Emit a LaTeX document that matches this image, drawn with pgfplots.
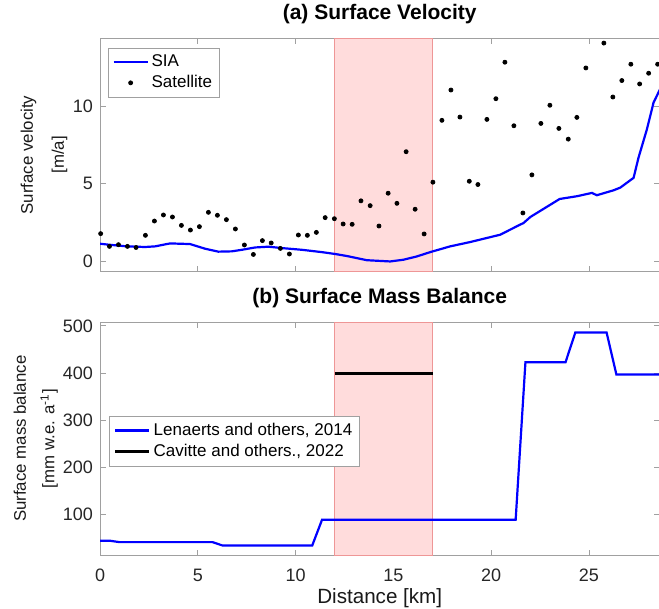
\documentclass[border=0pt]{standalone}
\usepackage{fontspec}
\setmainfont{Liberation Sans}
\usepackage{pgfplots}
\pgfplotsset{compat=1.18}
\definecolor{axgray}{RGB}{160,160,160}
\definecolor{shadefill}{RGB}{255,220,220}
\definecolor{shadeedge}{RGB}{238,150,150}
\definecolor{cSIA}{RGB}{0,0,255}

\pgfplotsset{
  panel/.style={
    scale only axis, width=279.5pt, height=116.5pt,
    xmin=0, xmax=28.6, xtick={0,5,...,25},
    axis line style={draw=axgray, line width=0.5pt},
    every tick/.style={draw=axgray, line width=0.5pt},
    major tick length=2.8pt,
    tick label style={font=\fontsize{9}{10}\selectfont, text=black!85},
    xticklabel style={yshift=-3.5pt},
    /pgf/number format/assume math mode=true,
    title style={font=\fontsize{10.5}{12}\selectfont\bfseries, yshift=-2.2pt},
    label style={font=\fontsize{8.4}{10}\selectfont, text=black!90},
    legend cell align=left,
    legend style={font=\fontsize{8.5}{10}\selectfont, draw=axgray,
      inner xsep=2pt, inner ysep=2pt,
      nodes={inner sep=1.4pt}},
  },
}

\begin{document}
\begin{tikzpicture}
% ===== (a) surface velocity =====
\begin{axis}[panel, at={(0pt,141.8pt)}, anchor=south west,
  ymin=-0.65, ymax=14.35, ytick={0,5,10}, xticklabels={},
  title={(a) Surface Velocity},
  ylabel={Surface velocity\\[5.5pt]{[m/a]}},
  ylabel style={at={(axis description cs:-0.100,0.5)}, anchor=center, align=center},
  legend style={at={(axis description cs:0.0143,0.961)}, anchor=north west},
]
\addplot[forget plot, draw=shadeedge, fill=shadefill, line width=0.5pt]
  coordinates {(12,-0.65) (17,-0.65) (17,14.35) (12,14.35)} -- cycle;
\addplot[cSIA, line width=1.1pt] coordinates {
  (0.0,1.14) (0.43,1.08) (1.37,0.97) (2.30,0.93) (2.81,0.97) (3.58,1.16)
  (4.60,1.12) (5.37,0.82) (6.05,0.63) (6.74,0.65) (7.25,0.75) (7.93,0.90)
  (8.61,0.95) (9.30,0.86) (10.32,0.75) (11.34,0.60) (12.02,0.48) (12.62,0.35)
  (13.64,0.08) (14.83,0.0) (15.51,0.11) (16.19,0.32) (16.88,0.60) (17.90,0.97)
  (18.93,1.25) (20.46,1.72) (21.48,2.37) (21.65,2.47) (22.0,2.86) (23.5,4.02)
  (24.4,4.2) (25.15,4.41) (25.4,4.26) (26.26,4.58) (26.6,4.75) (27.28,5.38)
  (27.53,6.67) (27.96,8.5) (28.30,10.22) (28.64,11.1)};
\addlegendentry{SIA}
\addplot[only marks, mark=*, mark size=1pt, black] coordinates {
  (0.03,1.79) (0.48,0.97) (0.94,1.08) (1.40,0.97) (1.84,0.90) (2.32,1.68)
  (2.78,2.60) (3.24,2.99) (3.70,2.86) (4.16,2.32) (4.62,2.02) (5.08,2.24)
  (5.54,3.16) (6.00,2.97) (6.46,2.69) (6.92,2.09) (7.38,1.06) (7.84,0.45)
  (8.30,1.34) (8.75,1.19) (9.22,0.84) (9.68,0.48) (10.14,1.70) (10.60,1.68)
  (11.06,1.87) (11.51,2.82) (11.98,2.75) (12.43,2.41) (12.89,2.39) (13.34,3.90)
  (13.81,3.59) (14.26,2.28) (14.73,4.39) (15.18,3.74) (15.65,7.06) (16.11,3.36)
  (16.57,1.77) (17.02,5.10) (17.48,9.08) (17.94,11.03) (18.40,9.29) (18.88,5.16)
  (19.32,4.95) (19.78,9.14) (20.24,10.47) (20.70,12.82) (21.16,8.73) (21.62,3.12)
  (22.08,5.57) (22.54,8.88) (23.00,10.05) (23.46,8.56) (23.94,7.87) (24.38,9.27)
  (24.84,12.45) (25.76,14.05) (26.22,10.58) (26.68,11.64) (27.14,12.69)
  (27.59,11.42) (28.05,12.11) (28.51,12.69)};
\addlegendentry{Satellite}
\end{axis}

% ===== (b) surface mass balance =====
\begin{axis}[panel, at={(0pt,0pt)}, anchor=south west,
  ymin=13, ymax=508, ytick={100,200,...,500},
  title={(b) Surface Mass Balance},
  xlabel={Distance [km]},
  xlabel style={font=\fontsize{10.3}{12}\selectfont, at={(axis description cs:0.5,0)}, anchor=north, yshift=-13pt},
  ylabel={Surface mass balance\\[4.2pt]{[mm w.e. a\textsuperscript{-1}]}},
  ylabel style={at={(axis description cs:-0.1148,0.5)}, anchor=center, align=center},
  legend style={at={(axis description cs:0.0166,0.599)}, anchor=north west},
]
\addplot[forget plot, draw=shadeedge, fill=shadefill, line width=0.5pt]
  coordinates {(12,13) (17,13) (17,508) (12,508)} -- cycle;
\addplot[cSIA, line width=1.1pt] coordinates {
  (0,44) (0.5,44) (1.0,41) (5.75,41) (6.25,34) (10.85,34) (11.35,88.5)
  (21.25,88.5) (21.75,423) (23.8,423) (24.3,486) (25.9,486) (26.4,397) (28.6,397)};
\addlegendentry{Lenaerts and others, 2014}
\addplot[black, line width=1.5pt] coordinates {(12,400) (17,400)};
\addlegendentry{Cavitte and others., 2022}
\end{axis}

\pgfresetboundingbox
\path[use as bounding box] (-50pt,-26.5pt) rectangle (279.3pt,277.5pt);
\end{tikzpicture}
\end{document}
